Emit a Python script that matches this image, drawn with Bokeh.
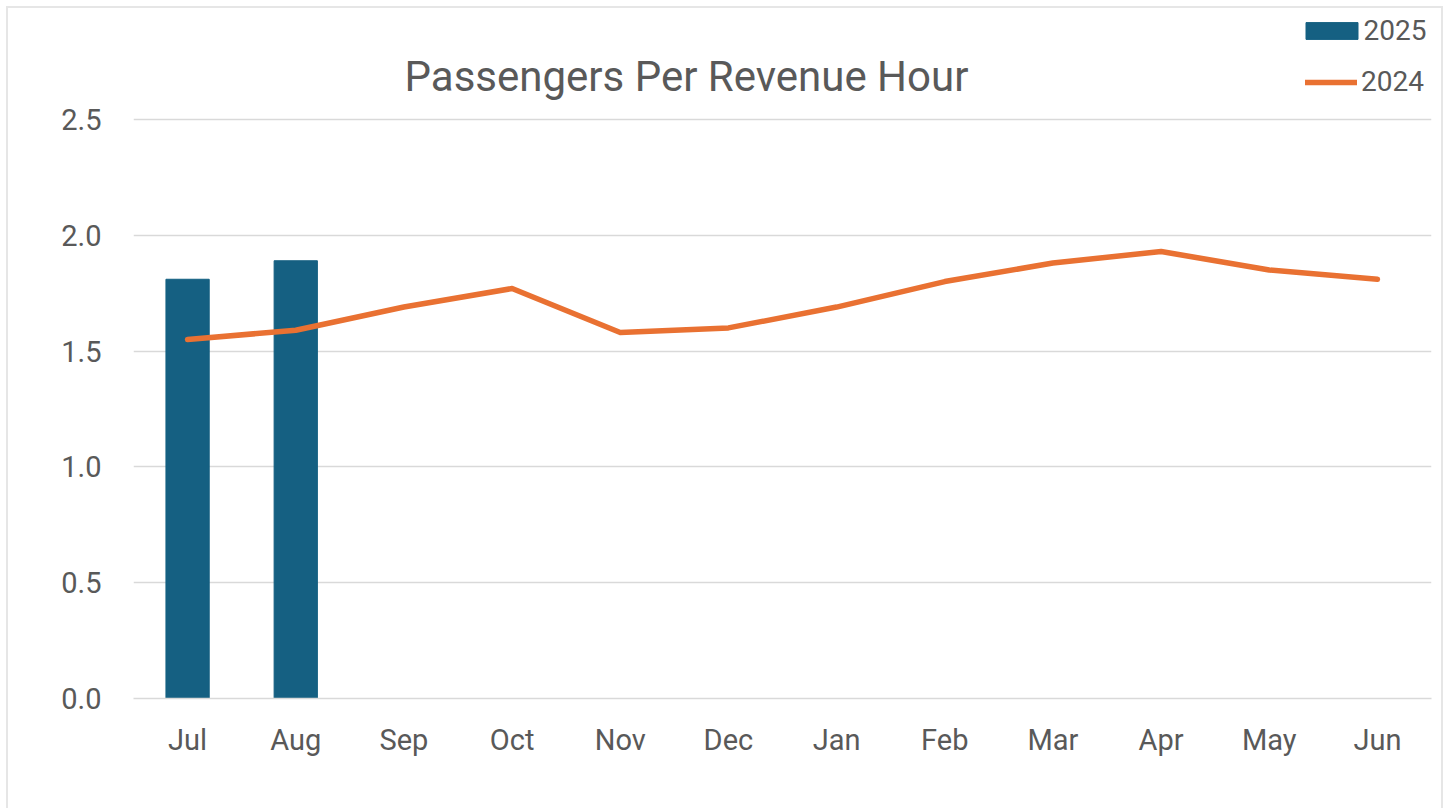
from bokeh.plotting import figure
from bokeh.models import Label, Legend, LegendItem, FixedTicker, CustomJSTickFormatter
from bokeh.embed import file_html
from bokeh.resources import INLINE

months = ["Jul", "Aug", "Sep", "Oct", "Nov", "Dec", "Jan", "Feb", "Mar", "Apr", "May", "Jun"]
bar_months = ["Jul", "Aug"]
values_2025 = [1.81, 1.89]
values_2024 = [1.55, 1.59, 1.69, 1.77, 1.58, 1.60, 1.69, 1.80, 1.88, 1.93, 1.85, 1.81]
title_text = "Passengers Per Revenue Hour"
y_ticks = [0.0, 0.5, 1.0, 1.5, 2.0, 2.5]

FONT = "Roboto"
TXT = "#595959"
BAR = "#156082"
LINE = "#E97132"
GRID = "#D9D9D9"

# frame covers the title/legend area too (so annotations are not clipped);
# grid lines only at the fixed ticks 0..2.5
p = figure(x_range=months, y_range=(0, 2.979), width=1437, height=802,
           output_backend="svg", toolbar_location=None,
           min_border_left=125, min_border_right=14, min_border_top=0, min_border_bottom=112)
p.styles = {"border-top": "2px solid #E6E6E6", "border-left": "2px solid #E6E6E6",
            "border-right": "2px solid #E6E6E6", "margin-left": "6px", "margin-top": "6px"}
p.outline_line_color = None
p.background_fill_color = "white"
p.border_fill_color = "white"

bars = p.vbar(x=bar_months, top=values_2025, width=0.4, color=BAR)
line = p.line(x=months, y=values_2024, line_color=LINE, line_width=5.5,
              line_cap="round", line_join="round")

p.xgrid.grid_line_color = None
p.ygrid.grid_line_color = GRID
p.ygrid.grid_line_width = 1.5
p.yaxis.ticker = FixedTicker(ticks=y_ticks)
p.yaxis.formatter = CustomJSTickFormatter(code="return tick.toFixed(1)")

for ax in (p.xaxis, p.yaxis):
    ax.axis_line_color = None
    ax.major_tick_line_color = None
    ax.minor_tick_line_color = None
    ax.major_label_text_font = FONT
    ax.major_label_text_font_size = "29px"
    ax.major_label_text_color = TXT
p.xaxis.axis_line_color = GRID
p.xaxis.axis_line_width = 1.5
p.yaxis.major_label_standoff = 26
p.xaxis.major_label_standoff = 18

title = Label(x=553, y=622, x_units="screen", y_units="screen", text=title_text,
              text_font=FONT, text_font_size="42px", text_color=TXT,
              text_align="center", text_baseline="middle")
p.add_layout(title)

leg1 = Legend(items=[LegendItem(label="2025", renderers=[bars])], location=(1165.5, 651),
              glyph_width=65, glyph_height=21, label_height=21, padding=0, margin=0,
              label_standoff=0, border_line_color=None, background_fill_alpha=0,
              label_text_font=FONT, label_text_font_size="28px", label_text_color=TXT)
leg2 = Legend(items=[LegendItem(label="2024", renderers=[line])], location=(1172, 600),
              glyph_width=52, glyph_height=20, label_height=20, padding=0, margin=0,
              label_standoff=4, border_line_color=None, background_fill_alpha=0,
              label_text_font=FONT, label_text_font_size="28px", label_text_color=TXT)
p.add_layout(leg1)
p.add_layout(leg2)

open("out.html", "w").write(file_html(p, INLINE))
